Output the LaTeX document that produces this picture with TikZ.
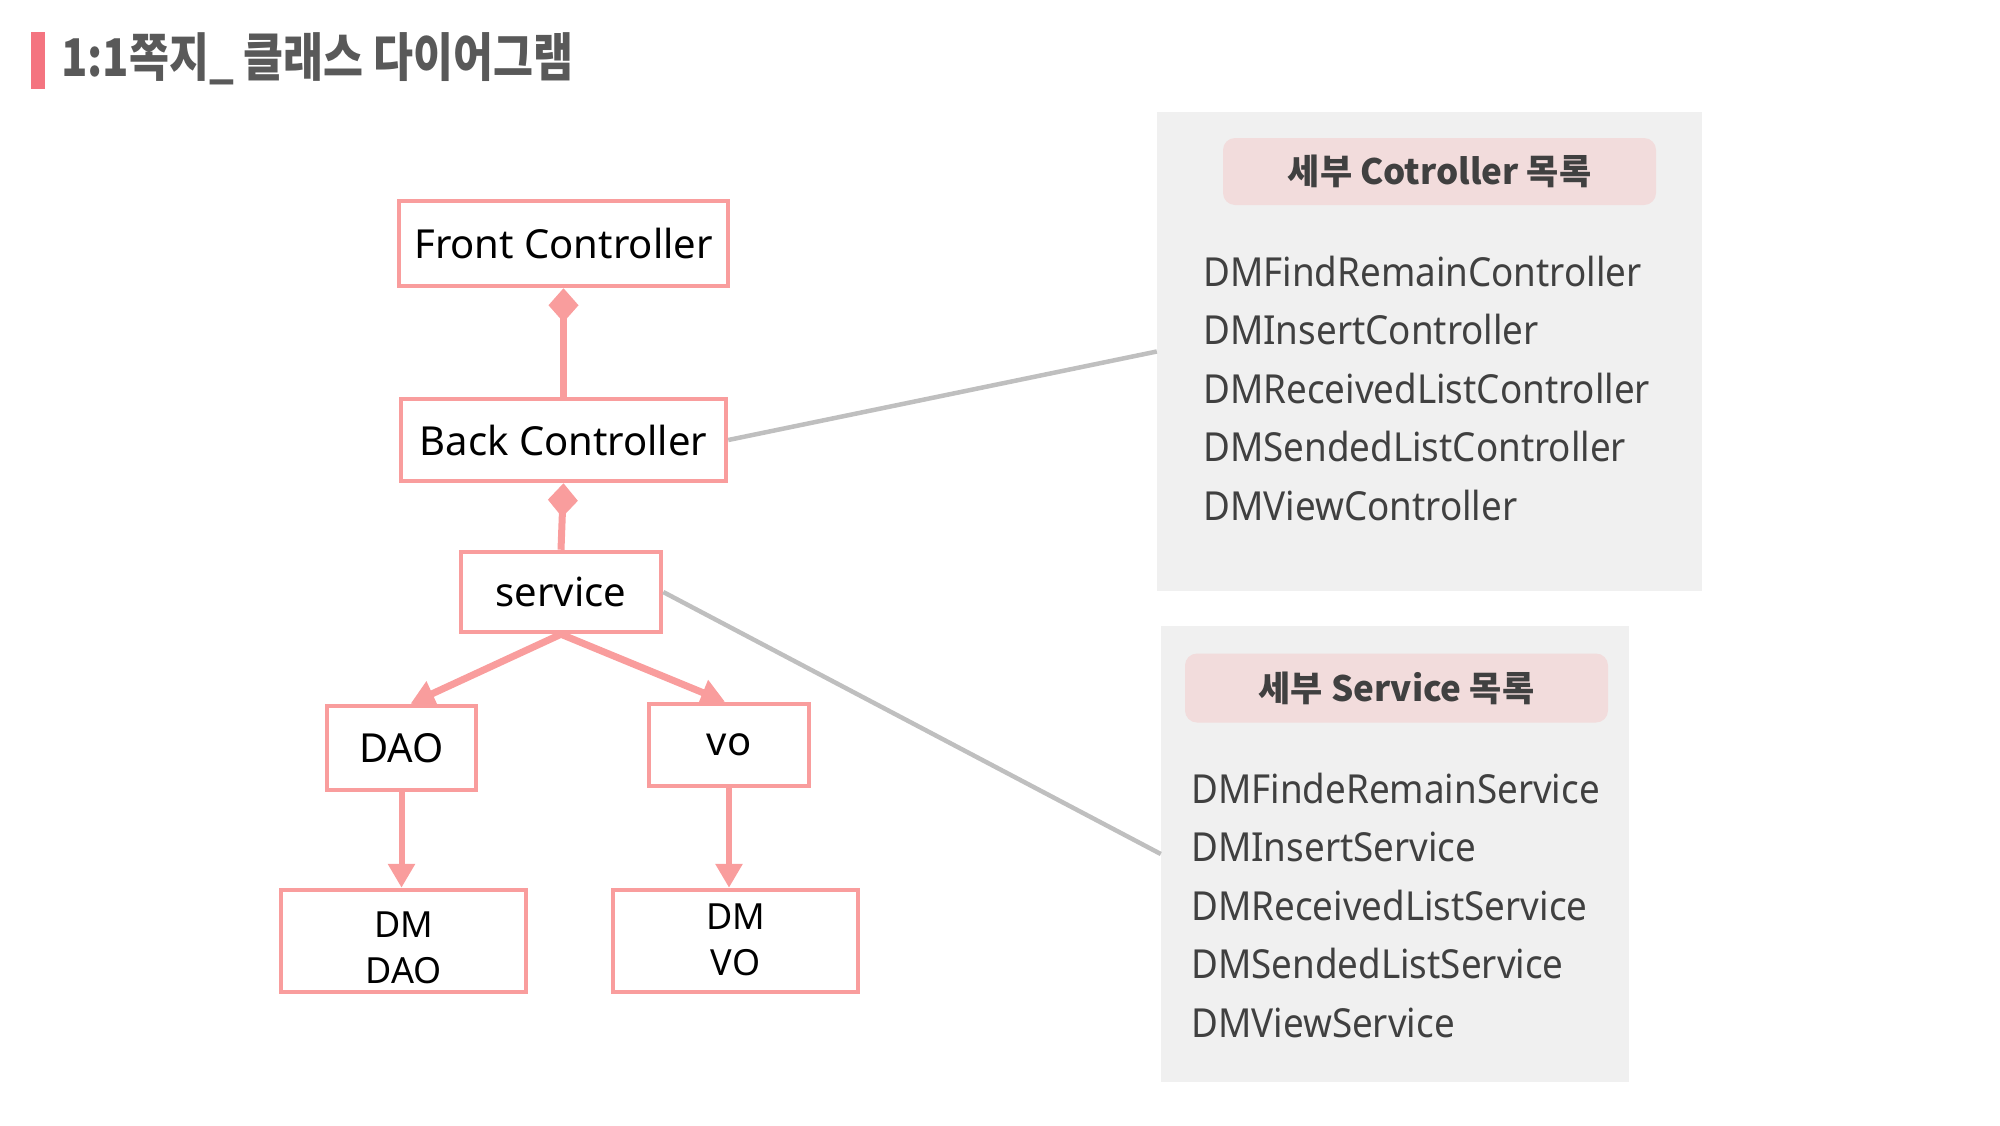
\documentclass[tikz,border=0pt]{standalone}
\usepackage{fontspec}
\setmainfont{Noto Sans CJK KR}
\newfontfamily\titlefont[FakeStretch=0.835]{Noto Sans CJK KR}
\newfontfamily\latfont{Noto Sans}
\newfontfamily\listfont[FakeStretch=0.92]{Noto Sans}
\usetikzlibrary{arrows.meta,calc}
\definecolor{boxpink}{HTML}{F99D9D}
\definecolor{barpink}{HTML}{F47480}
\definecolor{titlegray}{HTML}{595959}
\definecolor{textgray}{HTML}{404040}
\definecolor{panelgray}{HTML}{F0F0F0}
\definecolor{headpink}{HTML}{F2DCDC}
\definecolor{linkgray}{HTML}{BFBFBF}
\tikzset{
  cbox/.style={draw=boxpink, line width=4.5pt, fill=white, inner sep=0pt, text=black, font=\latfont\fontsize{40}{46}\selectfont, align=center},
  dmtext/.style={inner sep=0pt, text=black, font=\latfont\fontsize{36}{46}\selectfont, align=center},
  link/.style={draw=boxpink, line width=7pt},
  comp/.style={link, -{Diamond[length=34pt,width=30pt]}},
  arr/.style={draw=boxpink, line width=6pt, -{Triangle[length=24pt,width=26pt]}},
  panel/.style={fill=panelgray, draw=none, inner sep=0pt},
  header/.style={fill=headpink, draw=none, rounded corners=12pt, inner sep=0pt, text=textgray, font=\fontsize{35}{40}\selectfont\bfseries},
  item/.style={anchor=base west, inner sep=0pt, text=textgray, font=\listfont\fontsize{40}{48}\selectfont},
  glink/.style={draw=linkgray, line width=4.5pt}
}
\begin{document}
\begin{tikzpicture}[x=1pt,y=-1pt]
\useasboundingbox (0,0) rectangle (2000,1125);
% title
\fill[barpink] (31,32) rectangle (45,89);
\node[anchor=west, inner sep=0pt, text=titlegray, font=\titlefont\fontsize{52}{58}\selectfont\bfseries] (title) at (61,59) {1:1쪽지\_ 클래스 다이어그램};
% panels
\node[panel, minimum width=545pt, minimum height=479pt] (p1) at (1429.5,351.5) {};
\node[panel, minimum width=468pt, minimum height=456pt] (p2) at (1395,854) {};
\node[header, minimum width=433pt, minimum height=67pt] (h1) at (1439.5,171.5) {세부 Cotroller 목록};
\node[header, minimum width=423pt, minimum height=69pt] (h2) at (1396.5,688) {세부 Service 목록};
\node[item] (c1) at (1203,286) {DMFindRemainController};
\node[item] (c2) at (1203,344.5) {DMInsertController};
\node[item] (c3) at (1203,403) {DMReceivedListController};
\node[item] (c4) at (1203,461.5) {DMSendedListController};
\node[item] (c5) at (1203,520) {DMViewController};
\node[item] (s1) at (1191,803) {DMFindeRemainService};
\node[item] (s2) at (1191,861.5) {DMInsertService};
\node[item] (s3) at (1191,920) {DMReceivedListService};
\node[item] (s4) at (1191,978.5) {DMSendedListService};
\node[item] (s5) at (1191,1037) {DMViewService};
% class boxes
\node[cbox, minimum width=329pt, minimum height=85pt] (front) at (563.5,243.5) {Front Controller};
\node[cbox, minimum width=325pt, minimum height=82pt] (back) at (563.5,440) {Back Controller};
\node[cbox, minimum width=200pt, minimum height=80pt] (service) at (561,592) {service};
\node[cbox, minimum width=149pt, minimum height=84pt] (dao) at (401.5,748) {DAO};
\node[cbox, minimum width=160pt, minimum height=82pt] (vo) at (729,745) {vo};
\node[cbox, minimum width=245pt, minimum height=102pt] (dmdao) at (403.5,941) {};
\node[dmtext] (dmdaolabel) at ([yshift=-7pt]dmdao.center) {DM\\DAO};
\node[cbox, minimum width=245pt, minimum height=102pt] (dmvo) at (735.5,941) {};
\node[dmtext] (dmvolabel) at ([yshift=1pt]dmvo.center) {DM\\VO};
% connectors
\draw[glink] (back.east) -- (p1.west);
\draw[glink] (service.east) -- (p2.west);
\draw[comp] (back.north) -- (front.south);
\draw[comp] (service.north) -- (back.south);
\draw[arr, line width=7pt] (service.south) -- ([xshift=9pt]dao.north);
\draw[arr, line width=7pt] (service.south) -- ([xshift=-4pt]vo.north);
\draw[arr] (dao.south) -- (dao.south |- dmdao.north);
\draw[arr] (vo.south) -- (vo.south |- dmvo.north);
\end{tikzpicture}
\end{document}
